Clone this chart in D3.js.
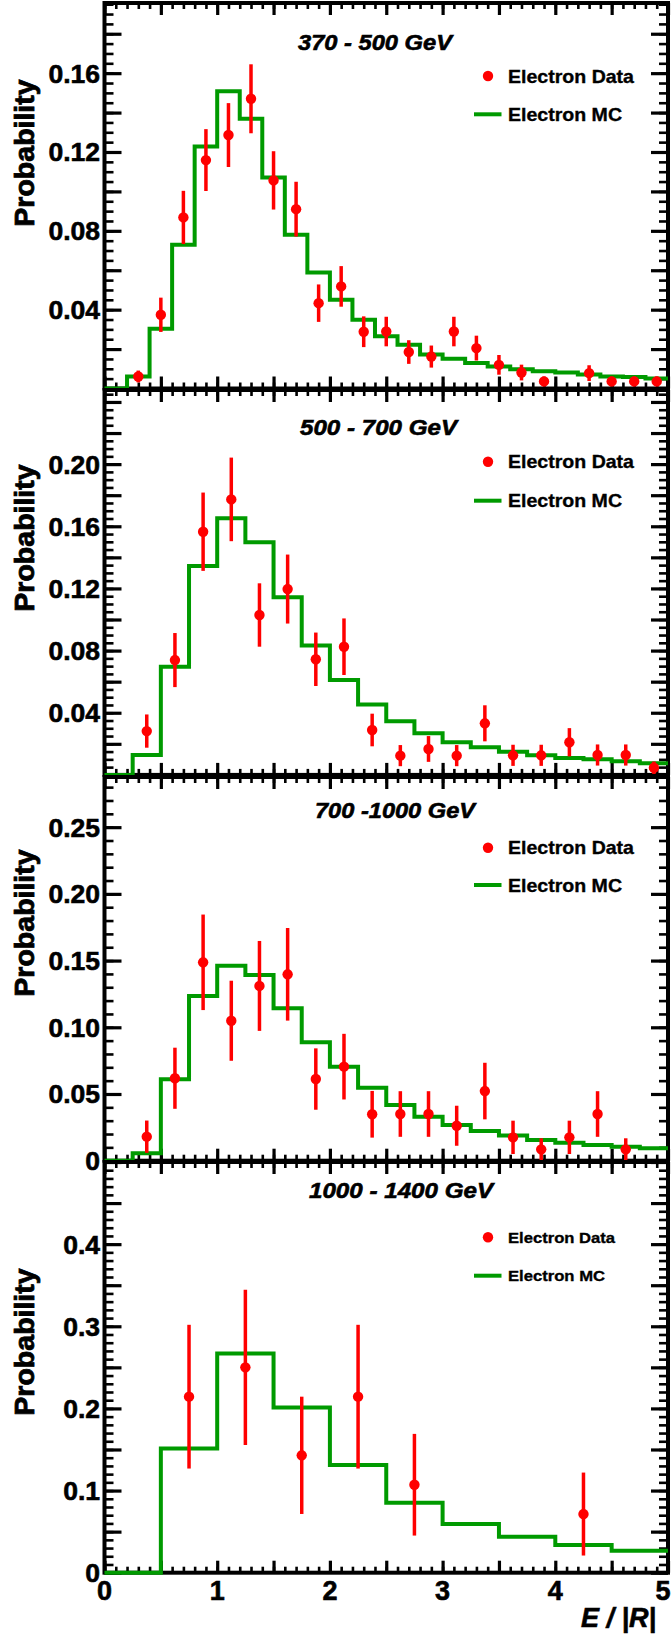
<!DOCTYPE html>
<html>
<head>
<meta charset="utf-8">
<script src="https://cdn.jsdelivr.net/npm/d3@7"></script>
<style>
  html, body { margin: 0; padding: 0; background: #fff; }
  svg { display: block; }
  text { font-family: "Liberation Sans", Arial, Helvetica, sans-serif; font-weight: bold; fill: #000;
         stroke: #000; stroke-width: 0.45px; paint-order: stroke; }
</style>
</head>
<body>
<svg id="chart" width="672" height="1635"></svg>
<script>
// ---- data ---------------------------------------------------------------
const energyRanges = ["370 - 500 GeV", "500 - 700 GeV", "700 -1000 GeV", "1000 - 1400 GeV"];
const binWidths = [0.2, 0.25, 0.25, 0.5];

// Monte Carlo histograms (one value per bin, bins start at E/|R| = 0)
const mc1 = [0, 0.0061, 0.0303, 0.0729, 0.1228, 0.1508, 0.1369, 0.1071, 0.0780, 0.0589,
             0.0450, 0.0349, 0.0265, 0.0222, 0.0173, 0.0151, 0.0129, 0.0112, 0.0098, 0.0088,
             0.0081, 0.0071, 0.0061, 0.0058, 0.0051];
const mc2 = [0, 0.0128, 0.0696, 0.1344, 0.1651, 0.1497, 0.1143, 0.0832, 0.0611, 0.0453,
             0.0346, 0.0268, 0.0210, 0.0178, 0.0149, 0.0126, 0.0109, 0.0100, 0.0088, 0.0075];
const mc3 = [0, 0.0055, 0.0610, 0.1235, 0.1462, 0.1392, 0.1142, 0.0888, 0.0705, 0.0547,
             0.0418, 0.0330, 0.0268, 0.0223, 0.0188, 0.0155, 0.0135, 0.0118, 0.0105, 0.0093];
const mc4 = [0, 0.1513, 0.2669, 0.2012, 0.1310, 0.0852, 0.0592, 0.0438, 0.0337, 0.0268];

// Measured electron data: bin centre, probability, uncertainty
const dataX1 = [0.3, 0.5, 0.7, 0.9, 1.1, 1.3, 1.5, 1.7, 1.9, 2.1, 2.3, 2.5, 2.7, 2.9, 3.1, 3.3,
                3.5, 3.7, 3.9, 4.3, 4.5, 4.7, 4.9];
const dataY1 = [0.0061, 0.0374, 0.0868, 0.1159, 0.1286, 0.1470, 0.1056, 0.0910, 0.0433, 0.0518,
                0.0288, 0.0289, 0.0185, 0.0162, 0.0289, 0.0205, 0.0120, 0.0081, 0.0036, 0.0078,
                0.0036, 0.0036, 0.0036];
const dataErr1 = [0.0030, 0.0087, 0.0135, 0.0157, 0.0162, 0.0175, 0.0148, 0.0139, 0.0095, 0.0103,
                  0.0078, 0.0075, 0.0060, 0.0056, 0.0075, 0.0063, 0.0050, 0.0040, 0.0025, 0.0040,
                  0.0025, 0.0025, 0.0025];

const dataX2 = [0.375, 0.625, 0.875, 1.125, 1.375, 1.625, 1.875, 2.125, 2.375, 2.625, 2.875,
                3.125, 3.375, 3.625, 3.875, 4.125, 4.375, 4.625, 4.875];
const dataY2 = [0.0282, 0.0739, 0.1565, 0.1773, 0.1029, 0.1196, 0.0744, 0.0825, 0.0289, 0.0124,
                0.0167, 0.0124, 0.0332, 0.0126, 0.0126, 0.0210, 0.0128, 0.0128, 0.0046];
const dataErr2 = [0.0107, 0.0174, 0.0252, 0.0269, 0.0204, 0.0222, 0.0172, 0.0182, 0.0105, 0.0068,
                  0.0083, 0.0068, 0.0116, 0.0068, 0.0068, 0.0091, 0.0068, 0.0068, 0.0040];

const dataX3 = [0.375, 0.625, 0.875, 1.125, 1.375, 1.625, 1.875, 2.125, 2.375, 2.625, 2.875,
                3.125, 3.375, 3.625, 3.875, 4.125, 4.375, 4.625];
const dataY3 = [0.0180, 0.0618, 0.1487, 0.1049, 0.1310, 0.1397, 0.0612, 0.0705, 0.0348, 0.0350,
                0.0350, 0.0262, 0.0522, 0.0175, 0.0085, 0.0175, 0.0350, 0.0085];
const dataErr3 = [0.0121, 0.0229, 0.0358, 0.0300, 0.0337, 0.0347, 0.0230, 0.0246, 0.0175, 0.0171,
                  0.0171, 0.0150, 0.0212, 0.0125, 0.0083, 0.0125, 0.0171, 0.0083];

const dataX4 = [0.75, 1.25, 1.75, 2.25, 2.75, 4.25];
const dataY4 = [0.2143, 0.2500, 0.1429, 0.2143, 0.1071, 0.0714];
const dataErr4 = [0.0875, 0.0945, 0.0714, 0.0875, 0.0619, 0.0505];

// Axis labels
const yTickLabels1 = ["0.04", "0.08", "0.12", "0.16"];
const yTickLabels2 = ["0.04", "0.08", "0.12", "0.16", "0.20"];
const yTickLabels3 = ["0", "0.05", "0.10", "0.15", "0.20", "0.25"];
const yTickLabels4 = ["0", "0.1", "0.2", "0.3", "0.4"];
const xTickLabels = ["0", "1", "2", "3", "4", "5"];
const legendLabels = ["Electron Data", "Electron MC"];

// ---- layout -------------------------------------------------------------
const RED = "#ff0000";
const GREEN = "#009a00";
const X0 = 104.5, X1 = 668;
const W = 672;

const panels = [
  { top: 3,    bottom: 388.5,  ymax: 0.1956, major: 0.02, minor: 0.005,
    mc: mc1, dx: dataX1, dy: dataY1, de: dataErr1, labels: yTickLabels1, binW: binWidths[0],
    title: energyRanges[0], titleX: 298, titleY: 50, titleLen: 154,
    legY: [76, 114.3], legFont: 18.5, legLen: [126, 114], yTitleY: 153 },
  { top: 390,  bottom: 774.9,  ymax: 0.2477, major: 0.02, minor: 0.005,
    mc: mc2, dx: dataX2, dy: dataY2, de: dataErr2, labels: yTickLabels2, binW: binWidths[1],
    title: energyRanges[1], titleX: 300, titleY: 435, titleLen: 157,
    legY: [461.7, 500.7], legFont: 18.5, legLen: [126, 114], yTitleY: 538 },
  { top: 777,  bottom: 1160.7, ymax: 0.2876, major: 0.05, minor: 0.01,
    mc: mc3, dx: dataX3, dy: dataY3, de: dataErr3, labels: yTickLabels3, binW: binWidths[2],
    title: energyRanges[2], titleX: 315, titleY: 818.3, titleLen: 160,
    legY: [847.7, 885], legFont: 18.5, legLen: [126, 114], yTitleY: 923 },
  { top: 1162, bottom: 1572.7, ymax: 0.5, major: 0.05, minor: 0.01,
    mc: mc4, dx: dataX4, dy: dataY4, de: dataErr4, labels: yTickLabels4, binW: binWidths[3],
    title: energyRanges[3], titleX: 309, titleY: 1198.3, titleLen: 184,
    legY: [1237.3, 1275.7], legFont: 15.5, legLen: [107, 97], yTitleY: 1342 }
];

const svg = d3.select("#chart");
const x = d3.scaleLinear().domain([0, 5]).range([X0, X1]);

const xMajor = d3.range(0, 5.0001, 0.5);
const xMinor = d3.range(0, 5.0001, 0.1);

function styleTicks(g, w) {
  g.select(".domain").remove();
  g.selectAll(".tick line").attr("stroke", "#000").attr("stroke-width", w);
  g.selectAll(".tick text").remove();
}

panels.forEach(p => {
  const y = d3.scaleLinear().domain([0, p.ymax]).range([p.bottom, p.top]);
  const g = svg.append("g");

  const yMajor = d3.range(0, p.ymax + 1e-9, p.major);
  const yMinor = d3.range(0, p.ymax + 1e-9, p.minor);

  // tick marks on all four sides, pointing inwards
  const tickSets = [
    [d3.axisLeft(y),   `translate(${X0},0)`,        yMajor, yMinor, 17, 9],
    [d3.axisRight(y),  `translate(${X1},0)`,        yMajor, yMinor, 17, 9],
    [d3.axisBottom(x), `translate(0,${p.bottom})`,  xMajor, xMinor, 12, 6],
    [d3.axisTop(x),    `translate(0,${p.top})`,     xMajor, xMinor, 12, 6]
  ];
  tickSets.forEach(([axisFn, tr, maj, min, lenMaj, lenMin]) => {
    g.append("g").attr("transform", tr)
      .call(axisFn.tickValues(min).tickSize(-lenMin).tickFormat(""))
      .call(s => styleTicks(s, 2.6));
    g.append("g").attr("transform", tr)
      .call(axisFn.tickValues(maj).tickSize(-lenMaj).tickFormat(""))
      .call(s => styleTicks(s, 3.2));
  });

  // frame
  g.append("rect")
    .attr("x", X0).attr("y", p.top)
    .attr("width", X1 - X0).attr("height", p.bottom - p.top)
    .attr("fill", "none").attr("stroke", "#000").attr("stroke-width", 4);

  // y tick labels
  g.selectAll("text.ylab").data(p.labels).join("text")
    .attr("class", "ylab")
    .attr("x", 100)
    .attr("y", d => y(+d) + 9.5)
    .attr("text-anchor", "end")
    .attr("font-size", 26.5)
    .style("stroke-width", "0.6px")
    .text(d => d);

  // y axis title
  g.append("text")
    .attr("transform", `translate(33.5,${p.yTitleY}) rotate(-90)`)
    .attr("text-anchor", "middle")
    .attr("font-size", 28.5)
    .style("stroke-width", "0.8px")
    .text("Probability");

  // Monte Carlo step histogram
  const edges = p.mc.map((_, i) => i * p.binW);
  let dPath = `M${x(0)},${y(p.mc[0])}`;
  p.mc.forEach((v, i) => {
    if (i > 0) dPath += `V${y(v)}`;
    dPath += `H${x(edges[i] + p.binW)}`;
  });
  g.append("path")
    .attr("d", dPath)
    .attr("fill", "none")
    .attr("stroke", GREEN)
    .attr("stroke-width", 4)
    .attr("stroke-linejoin", "miter");

  // data points with error bars
  const pts = p.dx.map((xv, i) => ({ x: xv, y: p.dy[i], e: p.de[i] }));
  g.selectAll("line.err").data(pts).join("line")
    .attr("class", "err")
    .attr("x1", d => x(d.x)).attr("x2", d => x(d.x))
    .attr("y1", d => y(Math.max(0, d.y - d.e)))
    .attr("y2", d => y(d.y + d.e))
    .attr("stroke", RED).attr("stroke-width", 3.5);
  g.selectAll("circle.pt").data(pts).join("circle")
    .attr("class", "pt")
    .attr("cx", d => x(d.x)).attr("cy", d => y(d.y))
    .attr("r", 5.2)
    .attr("fill", RED);

  // title
  g.append("text")
    .attr("x", p.titleX).attr("y", p.titleY)
    .attr("font-size", 21.5)
    .attr("font-style", "italic")
    .attr("textLength", p.titleLen)
    .attr("lengthAdjust", "spacingAndGlyphs")
    .style("stroke-width", "0.6px")
    .text(p.title);

  // legend
  g.append("circle")
    .attr("cx", 488).attr("cy", p.legY[0]).attr("r", 5.2).attr("fill", RED);
  g.append("line")
    .attr("x1", 474).attr("x2", 501.5)
    .attr("y1", p.legY[1]).attr("y2", p.legY[1])
    .attr("stroke", GREEN).attr("stroke-width", 4);
  legendLabels.forEach((lab, i) => {
    g.append("text")
      .attr("x", 508).attr("y", p.legY[i] + 0.36 * p.legFont)
      .attr("font-size", p.legFont)
      .attr("textLength", p.legLen[i])
      .attr("lengthAdjust", "spacingAndGlyphs")
      .style("stroke-width", "0.35px")
      .text(lab);
  });
});

// x axis labels under the last panel (the last one kept inside the page)
svg.selectAll("text.xlab").data(xTickLabels).join("text")
  .attr("class", "xlab")
  .attr("x", d => Math.min(x(+d), W - 9))
  .attr("y", 1600)
  .attr("text-anchor", "middle")
  .attr("font-size", 27)
  .style("stroke-width", "0.6px")
  .text(d => d);

svg.append("text")
  .attr("x", 656).attr("y", 1627)
  .attr("text-anchor", "end")
  .attr("font-size", 27)
  .attr("font-style", "italic")
  .style("stroke-width", "0.6px")
  .text("E / |R|");
</script>
</body>
</html>
